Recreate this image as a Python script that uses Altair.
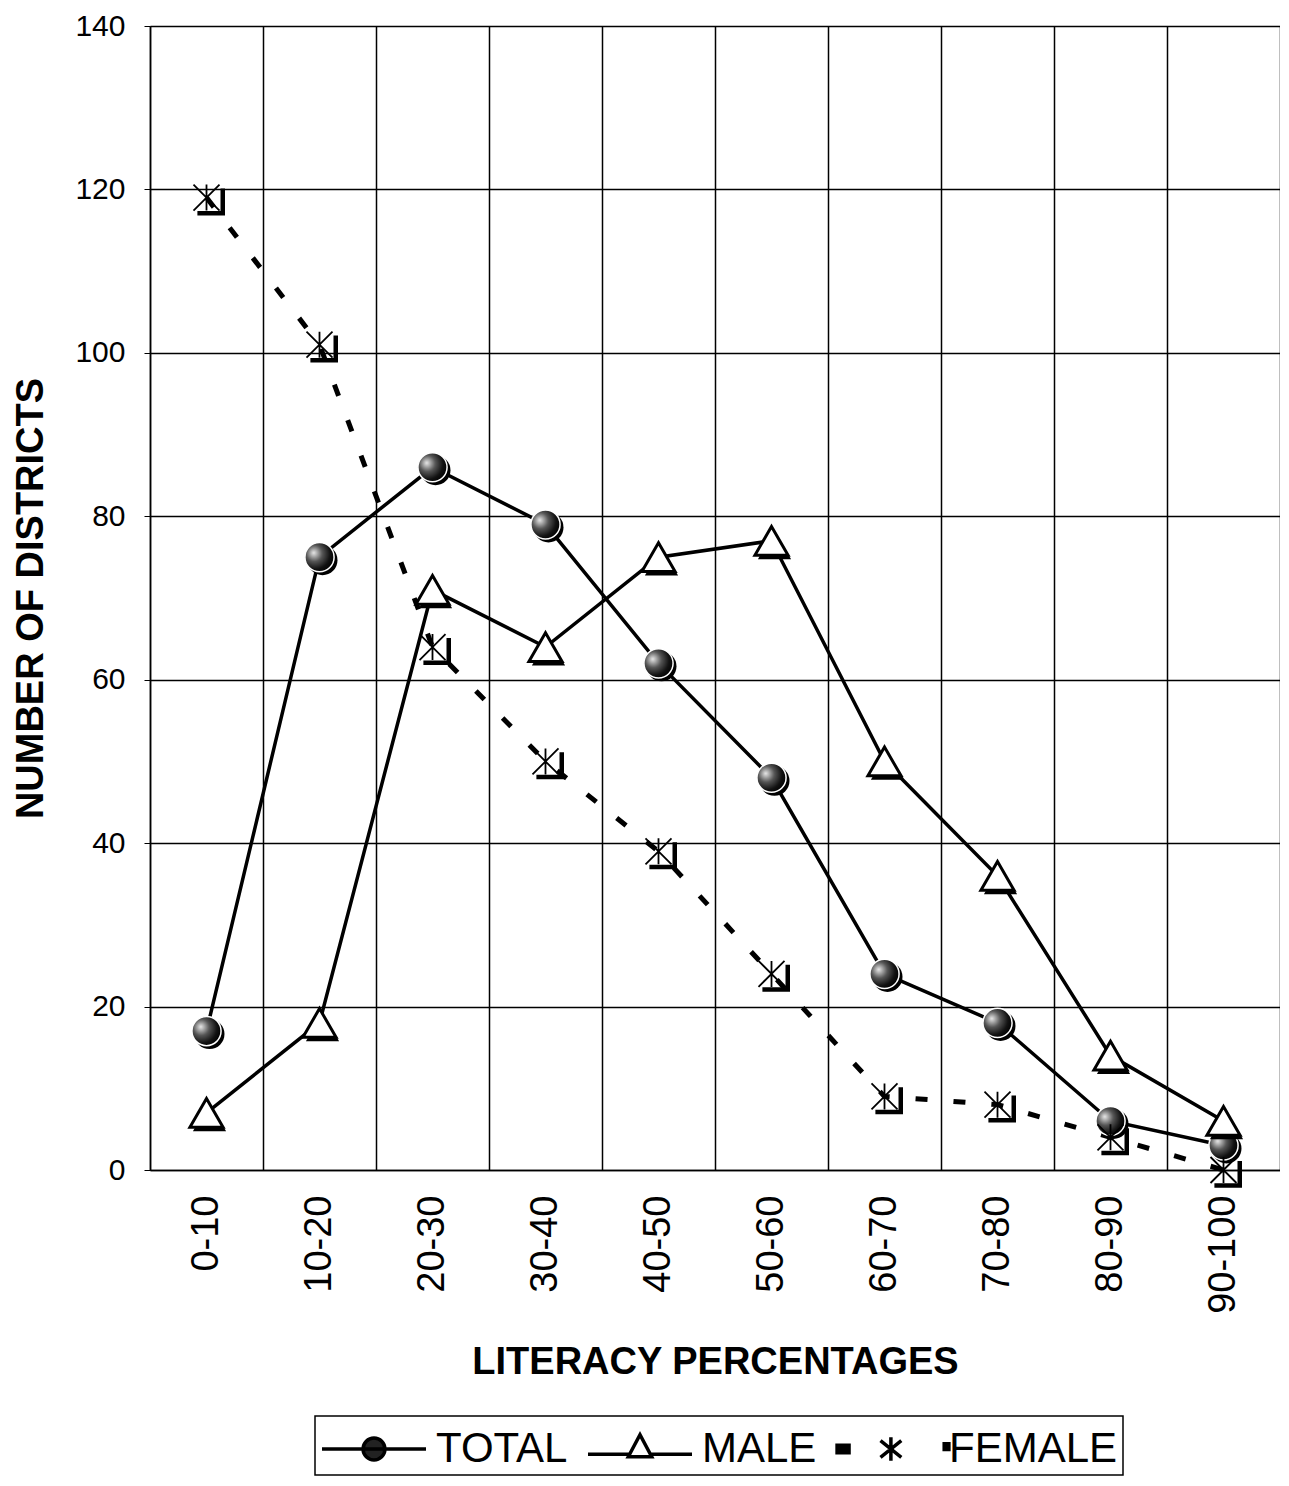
import altair as alt
import pandas as pd

categories = ["0-10", "10-20", "20-30", "30-40", "40-50", "50-60", "60-70", "70-80", "80-90", "90-100"]
total = [17, 75, 86, 79, 62, 48, 24, 18, 6, 3]
male = [7, 18, 71, 64, 75, 77, 50, 36, 14, 6]
female = [119, 101, 64, 50, 39, 24, 9, 8, 4, 0]
series_names = ["TOTAL", "MALE", "FEMALE"]
y_ticks = [0, 20, 40, 60, 80, 100, 120, 140]

rows = []
for name, vals in zip(series_names, [total, male, female]):
    for c, v in zip(categories, vals):
        rows.append({"cat": c, "series": name, "value": v})
df = pd.DataFrame(rows)

FONT = "Liberation Sans"

x_enc = alt.X(
    "cat:N",
    sort=categories,
    scale=alt.Scale(paddingInner=0, paddingOuter=0),
    axis=alt.Axis(
        title="LITERACY PERCENTAGES",
        tickBand="extent",
        grid=True,
        gridColor="black",
        gridWidth=1.5,
        ticks=False,
        tickSize=0,
        labelAngle=-90,
        labelAlign="right",
        labelBaseline="middle",
        labelFontSize=38,
        labelPadding=25,
        titleFontSize=38,
        titlePadding=30,
        domainColor="black",
        domainWidth=1.5,
    ),
)
y_enc = alt.Y(
    "value:Q",
    scale=alt.Scale(domain=[0, 140], nice=False),
    axis=alt.Axis(
        title="NUMBER OF DISTRICTS",
        values=y_ticks,
        grid=True,
        gridColor="black",
        gridWidth=1.5,
        tickSize=6,
        tickColor="black",
        labelFontSize=30,
        labelPadding=19,
        titleFontSize=38,
        titlePadding=24,
        domainColor="black",
        domainWidth=1.5,
    ),
)

base = alt.Chart(df).encode(x=x_enc, y=y_enc)

def sel(name):
    return base.transform_filter(alt.datum.series == name)

female_line = sel("FEMALE").mark_line(color="black", strokeWidth=5, strokeDash=[12, 26], strokeCap="butt")
male_line = sel("MALE").mark_line(color="black", strokeWidth=3.5)
total_line = sel("TOTAL").mark_line(color="black", strokeWidth=3.5)

total_shadow = sel("TOTAL").mark_point(shape="circle", filled=True, color="black", opacity=1, size=900, xOffset=3, yOffset=3)
sphere = alt.RadialGradient(
    gradient="radial",
    stops=[
        alt.GradientStop(color="#e8e8e8", offset=0),
        alt.GradientStop(color="#555555", offset=0.4),
        alt.GradientStop(color="#111111", offset=0.75),
        alt.GradientStop(color="#000000", offset=1),
    ],
    x1=0.3, y1=0.35, r1=0, x2=0.35, y2=0.4, r2=0.7,
)
total_pts = sel("TOTAL").mark_point(shape="circle", filled=True, fill=sphere, stroke="white", strokeWidth=1.5, opacity=1, size=850)

male_shadow = sel("MALE").mark_point(shape="triangle-up", filled=True, color="black", opacity=1, size=1100, xOffset=3, yOffset=4)
male_pts = sel("MALE").mark_point(shape="triangle-up", filled=True, fill="white", stroke="black", strokeWidth=3, opacity=1, size=1100)

bracket_path = "M-0.7,1.2H1.25V-0.7"
asterisk_path = "M0,-1V1M-1,-1L1,1M-1,1L1,-1"
female_bracket = sel("FEMALE").mark_point(shape=bracket_path, filled=False, stroke="black", strokeWidth=4.5, opacity=1, size=676)
female_pts = sel("FEMALE").mark_point(shape=asterisk_path, filled=False, stroke="black", strokeWidth=1.8, opacity=1, size=676)

legend_paths = [
    "M-1,0H3M0.58,0A0.42,0.42 0 1,1 1.42,0A0.42,0.42 0 1,1 0.58,0Z",
    "M-1,0.2H0.6M1.4,0.2H3M0.55,0.3L1,-0.55L1.45,0.3Z",
    "M-0.92,-0.14H-0.46V0.14H-0.92ZM1.15,-0.45V0.45M0.75,-0.32L1.55,0.32M0.75,0.32L1.55,-0.32M3.2,-0.2H3.38V0.02H3.2Z",
]
legend_fills = ["#222222", "white", "black"]
legend_strokes = ["black", "black", "black"]
leg = alt.Legend(
    title=None,
    orient="none",
    legendX=165,
    legendY=1390,
    direction="horizontal",
    columns=3,
    symbolSize=2704,
    symbolStrokeWidth=3.5,
    symbolOpacity=1,
    labelFontSize=42,
    labelFont=FONT,
    labelColor="black",
    labelLimit=500,
    labelOffset=60,
    columnPadding=13,
    padding=5,
    strokeColor="black",
)
legend_layer = base.mark_point(opacity=0, size=10, strokeWidth=3).encode(
    shape=alt.Shape("series:N", scale=alt.Scale(domain=series_names, range=legend_paths), legend=leg),
    fill=alt.Fill("series:N", scale=alt.Scale(domain=series_names, range=legend_fills), legend=leg),
    stroke=alt.Stroke("series:N", scale=alt.Scale(domain=series_names, range=legend_strokes), legend=leg),
)

chart = alt.layer(
    female_line, male_line, total_line,
    total_shadow, total_pts,
    male_shadow, male_pts,
    female_bracket, female_pts,
    legend_layer,
).properties(
    width=1130, height=1144,
    padding={"left": 4, "top": 3, "right": 0, "bottom": 0},
).configure_view(stroke=None).configure_axis(
    labelFont=FONT, titleFont=FONT, labelColor="black", titleColor="black", titleFontWeight="bold"
).configure_legend(strokeWidth=1.5)

chart.save("out.html", embed_options={"renderer": "svg", "actions": False})
